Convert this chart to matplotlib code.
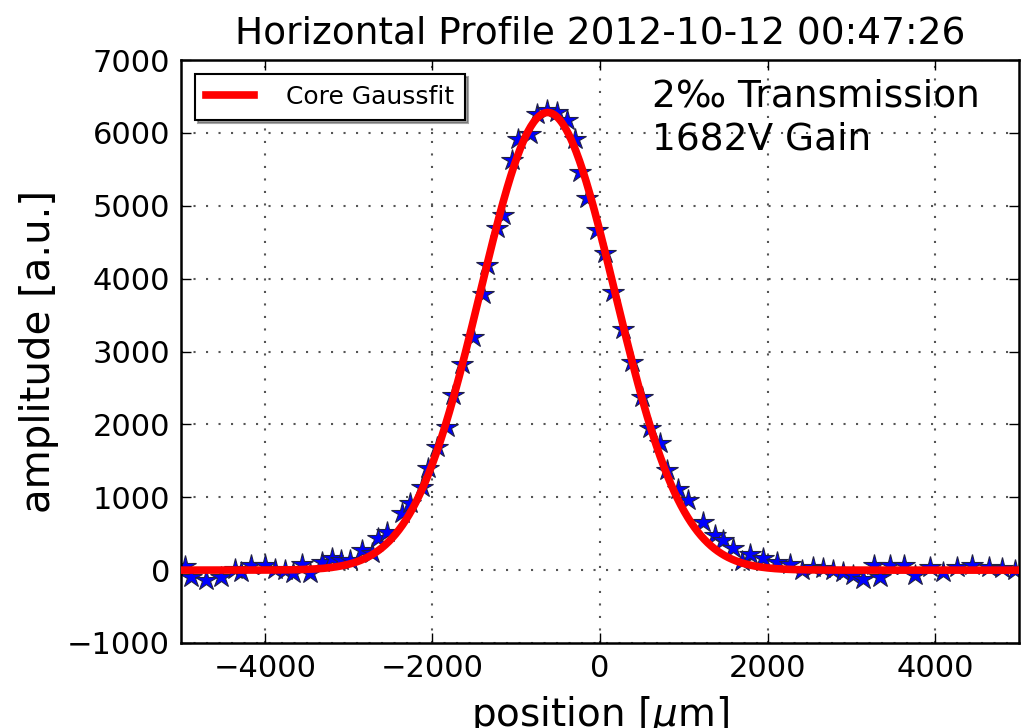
import numpy as np
import matplotlib
matplotlib.use('Agg')
import matplotlib.pyplot as plt

# measured wire positions [um] and amplitudes [a.u.]
position = [-4955, -4876, -4696, -4517, -4358, -4279, -4159, -4000, -3881, -3761,
            -3662, -3562, -3463, -3323, -3204, -3085, -2985, -2840, -2726, -2647,
            -2547, -2368, -2269, -2129, -2050, -1950, -1823, -1751, -1652, -1513,
            -1393, -1353, -1233, -1154, -1054, -975, -836, -756, -637, -517,
            -398, -299, -239, -159, -39, 60, 159, 279, 378, 498,
            597, 716, 796, 935, 1054, 1234, 1373, 1473, 1592, 1692,
            1791, 1950, 2109, 2269, 2408, 2547, 2667, 2786, 2905, 3025,
            3144, 3264, 3343, 3463, 3622, 3761, 3940, 4099, 4259, 4438,
            4637, 4796, 4955]
amplitude = [60, -90, -135, -90, 20, -20, 70, 70, 20, 0,
             -45, 90, -45, 115, 160, 135, 135, 270, 230, 435,
             520, 780, 915, 1145, 1395, 1690, 1965, 2400, 2835, 3200,
             3795, 4185, 4690, 4870, 5625, 5920, 5990, 6265, 6310, 6285,
             6175, 5920, 5465, 5100, 4665, 4345, 3820, 3315, 2860, 2380,
             1945, 1740, 1370, 1120, 960, 665, 480, 410, 310, 120,
             215, 160, 115, 90, 0, 45, 25, 0, -25, -70,
             -115, 70, -90, 70, 70, -70, 45, -25, 45, 70,
             45, 25, 0]

x = np.array(position, dtype=float)
y = np.array(amplitude, dtype=float)

# core gauss fit: weighted parabola on log(amplitude) of the core points
core = y > 1000
coef = np.polyfit(x[core], np.log(y[core]), 2, w=y[core])
sigma = np.sqrt(-1.0 / (2 * coef[0]))
mu = coef[1] * sigma ** 2
a0 = np.exp(coef[2] + mu ** 2 / (2 * sigma ** 2))
xf = np.linspace(-5000, 5000, 1000)
yf = a0 * np.exp(-(xf - mu) ** 2 / (2 * sigma ** 2))

plt.rcParams['font.family'] = 'DejaVu Sans'
plt.rcParams['mathtext.fontset'] = 'dejavusans'

fig = plt.figure(figsize=(10.22, 7.28), dpi=100, facecolor='white')
ax = fig.add_axes([181 / 1022, 85 / 728, 838 / 1022, 583 / 728])

ax.plot(x, y, '*', color='blue', markersize=16, markeredgecolor='#222244',
        markeredgewidth=0.8, zorder=2)
ax.plot(xf, yf, '-', color='red', linewidth=5.5, label='Core Gaussfit', zorder=3)

ax.set_xlim(-5000, 5000)
ax.set_ylim(-1000, 7000)
ax.set_xticks([-4000, -2000, 0, 2000, 4000])
ax.set_yticks(np.arange(-1000, 7001, 1000))
ax.grid(True, color='#555555', linestyle=(0, (1, 5)), linewidth=1.5)
ax.tick_params(direction='in', length=7, width=1, labelsize=22, top=True, right=True, pad=8)
for s in ax.spines.values():
    s.set_linewidth(1.8)

ax.set_title('Horizontal Profile 2012-10-12 00:47:26', fontsize=27, pad=12)
ax.set_ylabel('amplitude [a.u.]', fontsize=29, labelpad=6)
ax.set_xlabel(r'position [$\mu$m]', fontsize=28, labelpad=8)

ax.text(0.562, 0.968, '2\u2030 Transmission\n1682V Gain', transform=ax.transAxes,
        fontsize=27, va='top', ha='left', linespacing=1.25)

leg = ax.legend(loc='upper left', fontsize=18, shadow=True, fancybox=False,
                handlelength=1.9, handletextpad=1.3, borderaxespad=0.55,
                borderpad=0.45)
leg.get_frame().set_edgecolor('black')
leg.get_frame().set_linewidth(1.5)

fig.savefig('out.png', dpi=100, facecolor='white')
